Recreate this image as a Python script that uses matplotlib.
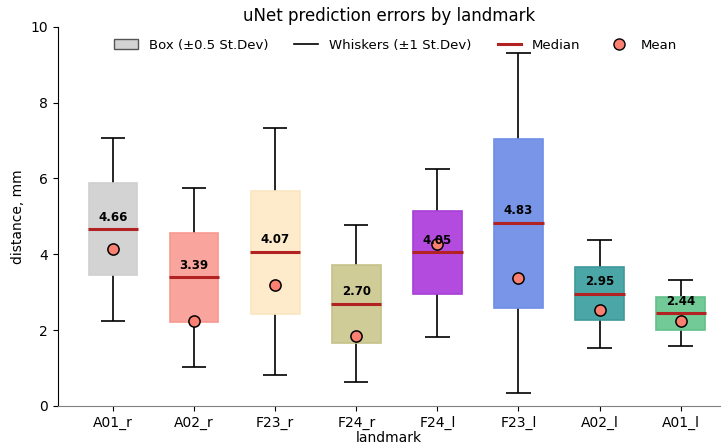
import matplotlib.pyplot as plt
from matplotlib.patches import Patch
from matplotlib.lines import Line2D

landmarks = ["A01_r", "A02_r", "F23_r", "F24_r", "F24_l", "F23_l", "A02_l", "A01_l"]
medians = [4.66, 3.39, 4.07, 2.70, 4.05, 4.83, 2.95, 2.44]
means = [4.13, 2.24, 3.18, 1.84, 4.26, 3.37, 2.53, 2.24]
box_lo = [3.45, 2.21, 2.42, 1.66, 2.95, 2.58, 2.26, 2.00]
box_hi = [5.87, 4.55, 5.68, 3.71, 5.13, 7.05, 3.66, 2.87]
whisk_lo = [2.24, 1.03, 0.82, 0.63, 1.82, 0.34, 1.53, 1.58]
whisk_hi = [7.08, 5.74, 7.32, 4.76, 6.26, 9.32, 4.37, 3.32]
colors = ["#d3d3d3", "#f9a59d", "#fdebcb", "#cfcc97", "#b34bdf", "#7895e8", "#4ba7a7", "#72ca97"]
edges = ["#cfcfcf", "#f69890", "#fbe5c2", "#c5c28a", "#a63fd6", "#6f8ee6", "#3e9a9a", "#62c08a"]

fig, ax = plt.subplots(figsize=(7.24, 4.47), dpi=100)
x = list(range(len(landmarks)))
w = 0.6

for i in x:
    ax.vlines(i, whisk_lo[i], box_lo[i], color="black", lw=1.2, zorder=1)
    ax.vlines(i, box_hi[i], whisk_hi[i], color="black", lw=1.2, zorder=1)
    ax.hlines([whisk_lo[i], whisk_hi[i]], i - 0.15, i + 0.15, color="black", lw=1.2, zorder=1)
    ax.bar(i, box_hi[i] - box_lo[i], bottom=box_lo[i], width=w, color=colors[i],
           edgecolor=edges[i], lw=1.2, zorder=2)
    ax.hlines(medians[i], i - w / 2 - 0.01, i + w / 2 + 0.01, color="#b22222", lw=2.2, zorder=3)
    ax.text(i, medians[i] + 0.15, "%.2f" % medians[i], ha="center", va="bottom",
            fontsize=8.5, fontweight="bold", zorder=5)

ax.scatter(x, means, s=65, color="#fa8072", edgecolor="black", lw=1.1, zorder=4)

ax.set_xticks(x)
ax.set_xticklabels(landmarks)
ax.set_xlim(-0.68, 7.49)
ax.set_ylim(0, 10)
ax.set_xlabel("landmark", labelpad=1)
ax.set_ylabel("distance, mm")
ax.set_title("uNet prediction errors by landmark", pad=4)
ax.spines["top"].set_visible(False)
ax.spines["right"].set_visible(False)
ax.spines["bottom"].set_color("gray")

handles = [
    Patch(facecolor="#d3d3d3", edgecolor="#555555", label="Box (±0.5 St.Dev)"),
    Line2D([], [], color="black", lw=1.2, label="Whiskers (±1 St.Dev)"),
    Line2D([], [], color="#b22222", lw=2.2, label="Median"),
    Line2D([], [], marker="o", ls="", markersize=8, markerfacecolor="#fa8072",
           markeredgecolor="black", label="Mean"),
]
ax.legend(handles=handles, loc="upper center", ncol=4, frameon=False, fontsize=9.5,
          bbox_to_anchor=(0.51, 1.0), handlelength=1.8, columnspacing=2.0)

fig.subplots_adjust(left=0.08, right=0.995, top=0.94, bottom=0.092)
fig.savefig("out.png")
